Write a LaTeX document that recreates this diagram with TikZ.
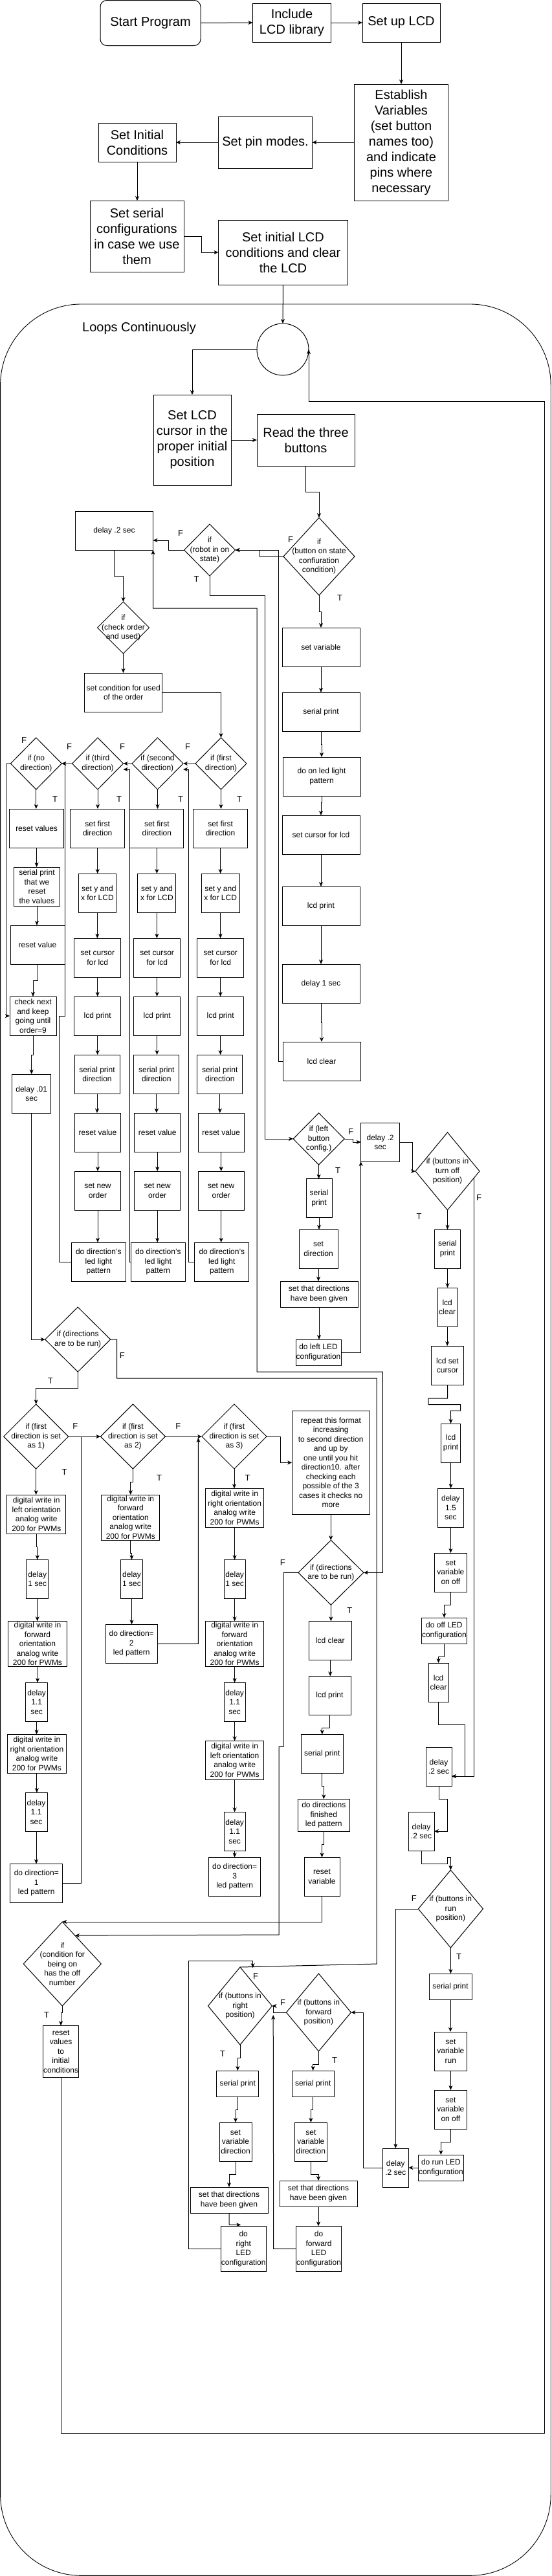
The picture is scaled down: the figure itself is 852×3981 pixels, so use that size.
\documentclass[tikz,border=0pt]{standalone}
\usepackage{fontspec}
\setmainfont{Liberation Sans}
\usetikzlibrary{shapes.geometric,arrows.meta,calc}
\tikzset{
 box/.style={draw, line width=1pt, inner sep=0pt, outer sep=0pt},
 dia/.style={draw, diamond, aspect=1, line width=1pt, inner sep=0pt, outer sep=0pt},
 sm/.style={font=\fontsize{12}{14.5}\selectfont, align=center, inner sep=0pt},
 bg/.style={font=\fontsize{20}{24}\selectfont, align=center, inner sep=0pt},
 lab/.style={font=\fontsize{13}{15}\selectfont, inner sep=0pt},
 arr/.style={-{Stealth[length=7pt,width=6pt,inset=2pt]}, line width=1pt},
 ln/.style={line width=1pt},
 dbl/.style={{Stealth[length=7pt,width=6pt,inset=2pt]}-{Stealth[length=7pt,width=6pt,inset=2pt]}, line width=1pt},
}
\newcommand\mybx[6]{\node[box,minimum width=#3pt,minimum height=#4pt] (#1) at (#2) {}; \node[#5] (#1-t) at (#1.center) {#6};}
\newcommand\mydm[6]{\node[dia,minimum width=#3pt,minimum height=#4pt] (#1) at (#2) {}; \node[#5] (#1-t) at (#1.center) {#6};}
\newcommand\myvc[2]{\draw[arr] (#1.south) -- (#1.south |- #2.north);}
\newcommand\mylb[3]{\node[lab] (#1) at (#2) {#3};}
\begin{document}
\begin{tikzpicture}[x=1pt,y=-1pt]
\useasboundingbox (0,0) rectangle (852,3981);
% outer loop frame
\draw[line width=0.9pt, rounded corners=125pt] (0.6,470) rectangle (851.2,3980.3);
\node[bg] (loopsc) at (215,507) {Loops Continuously};
% ---------- setup part
\node[box, rounded corners=10pt, minimum width=155pt, minimum height=70pt] (start) at (232.5,35.5) {};
\node[bg] (start-t) at (start.center) {Start Program};
\mybx{incl}{451,35}{121}{60}{bg}{Include\\LCD library}
\mybx{setup}{620,35}{120}{60}{bg}{Set up LCD}
\mybx{estab}{620,220}{145}{180}{bg}{Establish\\Variables\\(set button\\names too)\\and indicate\\pins where\\necessary}
\mybx{pinm}{410,220}{145}{80}{bg}{Set pin modes.}
\mybx{initc}{212,220}{120}{60}{bg}{Set Initial\\Conditions}
\mybx{serial}{211.5,365}{145}{110}{bg}{Set serial\\configurations\\in case we use\\them}
\mybx{lcdinit}{437.5,390}{200}{100}{bg}{Set initial LCD\\conditions and clear\\the LCD}
\node[draw, circle, minimum size=80pt, inner sep=0pt, outer sep=0pt, line width=1pt] (loop) at (437,540) {};
\mybx{setlcd}{297,680}{120}{140}{bg}{Set LCD\\cursor in the\\proper initial\\position}
\mybx{read}{472.5,680}{151}{80}{bg}{Read the three\\buttons}
% ---------- button config branch
\mydm{btn}{493,860}{110}{120}{sm}{if\\(button on state\\confiuration\\condition)}
\mybx{setvar}{496,1000}{120}{60}{sm}{set variable}
\mybx{serialp1}{496,1100}{120}{60}{sm}{serial print}
\mybx{ledon}{497,1200}{120}{60}{sm}{do on led light\\pattern}
\mybx{cursor1}{496,1290}{120}{60}{sm}{set cursor for lcd}
\mybx{lcdprint1}{496,1400}{120}{60}{sm}{lcd print}
\mybx{delay1}{496,1520}{120}{60}{sm}{delay 1 sec}
\mybx{lcdclear1}{497,1640}{120}{60}{sm}{lcd clear}
\mydm{robot}{324,850}{79}{80}{sm}{if\\(robot in on\\state)}
\mybx{delay02}{176.5,820}{120}{60}{sm}{delay .2 sec}
\mydm{check}{190.5,970}{80}{80}{sm}{if\\(check order\\and used)}
\mybx{setcond}{190.7,1070}{120}{60}{sm}{set condition for used\\of the order}
\mydm{d1}{341.5,1180}{79}{80}{sm}{if (first\\direction)}
\mydm{d2}{243.5,1180}{79}{80}{sm}{if (second\\direction)}
\mydm{d3}{151,1180}{79}{80}{sm}{if (third\\direction)}
\mydm{d0}{55.8,1180}{79}{80}{sm}{if (no\\direction)}
\mybx{resetv}{56.6,1280}{84}{60}{sm}{reset values}
\mybx{serialreset}{57,1370}{71}{60}{sm}{serial print\\that we\\reset\\the values}
\mybx{resetval}{58,1460}{84}{60}{sm}{reset value}
\mybx{checknext}{51,1570}{72}{60}{sm}{check next\\and keep\\going until\\order=9}
\mybx{delay01}{48.7,1690}{60}{60}{sm}{delay .01\\sec}
% column under third direction
\mybx{c3a}{150.7,1280}{84}{60}{sm}{set first\\direction}
\mybx{c3b}{150.4,1380}{58}{60}{sm}{set y and\\x for LCD}
\mybx{c3c}{150.7,1480}{72}{60}{sm}{set cursor\\for lcd}
\mybx{c3d}{150.7,1570}{72}{60}{sm}{lcd print}
\mybx{c3e}{150,1660}{70}{60}{sm}{serial print\\direction}
\mybx{c3f}{151,1750}{71}{60}{sm}{reset value}
\mybx{c3g}{151,1840}{71}{60}{sm}{set new\\order}
\mybx{c3h}{152.3,1950}{84}{60}{sm}{do direction's\\led light\\pattern}
% column under second direction
\mybx{c2a}{242.4,1280}{83}{60}{sm}{set first\\direction}
\mybx{c2b}{242.4,1380}{59}{60}{sm}{set y and\\x for LCD}
\mybx{c2c}{242.6,1480}{72}{60}{sm}{set cursor\\for lcd}
\mybx{c2d}{242.6,1570}{72}{60}{sm}{lcd print}
\mybx{c2e}{241.9,1660}{70}{60}{sm}{serial print\\direction}
\mybx{c2f}{243.2,1750}{71}{60}{sm}{reset value}
\mybx{c2g}{243.2,1840}{71}{60}{sm}{set new\\order}
\mybx{c2h}{244.3,1950}{84}{60}{sm}{do direction's\\led light\\pattern}
% column under first direction
\mybx{c1a}{340.6,1280}{84}{60}{sm}{set first\\direction}
\mybx{c1b}{340.6,1380}{59}{60}{sm}{set y and\\x for LCD}
\mybx{c1c}{340.6,1480}{72}{60}{sm}{set cursor\\for lcd}
\mybx{c1d}{340.6,1570}{72}{60}{sm}{lcd print}
\mybx{c1e}{339.8,1660}{70}{60}{sm}{serial print\\direction}
\mybx{c1f}{341.7,1750}{71}{60}{sm}{reset value}
\mybx{c1g}{341.7,1840}{71}{60}{sm}{set new\\order}
\mybx{c1h}{342.8,1950}{84}{60}{sm}{do direction's\\led light\\pattern}
% ---------- left button / turn off
\mydm{leftbtn}{492.6,1760}{79}{80}{sm}{if (left\\button\\config.)}
\mybx{delay02b}{587.6,1765}{60}{60}{sm}{delay .2\\sec}
\mybx{serialp2}{493,1851.7}{40}{60}{sm}{serial\\print}
\mybx{setdir}{492,1930}{60}{60}{sm}{set\\direction}
\mybx{setgiven}{493,2000}{120}{40}{sm}{set that directions\\have been given}
\mybx{doleft}{492,2090}{70}{40}{sm}{do left LED\\configuration}
\mydm{turnoff}{691.5,1810}{99}{120}{sm}{if (buttons in\\turn off\\position)}
\mybx{serialp3}{691.5,1930}{40}{60}{sm}{serial\\print}
\mybx{lcdclear2}{691.2,2020}{30}{60}{sm}{lcd\\clear}
\mybx{lcdsetcur}{691.5,2110}{50}{60}{sm}{lcd set\\cursor}
\mybx{lcdprint2}{696.6,2230}{30}{60}{sm}{lcd\\print}
\mybx{delay15}{696.4,2330}{40}{60}{sm}{delay\\1.5\\sec}
\mybx{setvaronoff}{696.4,2430}{50}{60}{sm}{set\\variable\\on off}
\mybx{dooff}{686.4,2520}{70}{40}{sm}{do off LED\\configuration}
\mybx{lcdclear3}{677.6,2600}{31}{60}{sm}{lcd\\clear}
\mybx{delay02c}{678,2730}{40}{60}{sm}{delay\\.2 sec}
\mybx{delay02d}{651,2830}{40}{60}{sm}{delay\\.2 sec}
\mydm{run}{696.4,2950}{100}{120}{sm}{if (buttons in\\run\\position)}
\mybx{serialp4}{696,3070}{66}{40}{sm}{serial print}
\mybx{setvarrun}{696.4,3170}{50}{60}{sm}{set\\variable\\run}
\mybx{setvaronoff2}{696.4,3260}{50}{60}{sm}{set\\variable\\on off}
\mybx{dorun}{681.4,3350}{70}{40}{sm}{do run LED\\configuration}
\mybx{delay02e}{611.3,3350}{40}{60}{sm}{delay\\.2 sec}
% ---------- right / forward
\mydm{right}{371,3100}{99}{120}{sm}{if (buttons in\\right\\position)}
\mydm{fwd}{492.4,3110}{100}{120}{sm}{if (buttons in\\forward\\position)}
\mybx{serialp5}{367.3,3220}{65}{40}{sm}{serial print}
\mybx{setvardir1}{364,3310}{50}{60}{sm}{set\\variable\\direction}
\mybx{setgiven2}{354,3400}{120}{40}{sm}{set that directions\\have been given}
\mybx{doright}{376.2,3475.3}{70}{70}{sm}{do\\right\\LED\\configuration}
\mybx{serialp6}{483.7,3220}{65}{40}{sm}{serial print}
\mybx{setvardir2}{480.4,3310}{50}{60}{sm}{set\\variable\\direction}
\mybx{setgiven3}{492,3390}{120}{40}{sm}{set that directions\\have been given}
\mybx{dofwd}{492.6,3475.3}{70}{70}{sm}{do\\forward\\LED\\configuration}
% ---------- directions run
\mydm{dirrun1}{120.2,2070}{101}{100}{sm}{if (directions\\are to be run)}
\mydm{dir1}{55.7,2220}{100}{100}{sm}{if (first\\direction is set\\as 1)}
\mydm{dir2}{205.4,2220}{100}{100}{sm}{if (first\\direction is set\\as 2)}
\mydm{dir3}{362,2220}{100}{100}{sm}{if (first\\direction is set\\as 3)}
\mybx{repeat}{511.2,2260.3}{120}{160}{sm}{repeat this format\\increasing\\to second direction\\and up by\\one until you hit\\direction10. after\\checking each\\possible of the 3\\cases it checks no\\more}
\mydm{dirrun2}{511.4,2430.3}{101}{100}{sm}{if (directions\\are to be run)}
\mybx{lcdclear4}{510.3,2535.3}{66}{60}{sm}{lcd clear}
\mybx{lcdprint4}{509.5,2620.3}{65}{60}{sm}{lcd print}
\mybx{serialp7}{497.8,2710.3}{65}{60}{sm}{serial print}
\mybx{dodirfin}{500.3,2805.3}{80}{50}{sm}{do directions\\finished\\led pattern}
\mybx{resetvar}{497.5,2900.3}{55}{60}{sm}{reset\\variable}
\mydm{cond}{96.3,3035}{120}{130}{sm}{if\\(condition for\\being on\\has the off\\number}
\mybx{resetinit}{94.1,3170.3}{55.5}{80}{sm}{reset\\values\\to\\initial\\conditions}
\mybx{a1}{56.3,2340}{91}{60}{sm}{digital write in\\left orientation\\analog write\\200 for PWMs}
\mybx{delay1a}{57.7,2440.3}{34}{60}{sm}{delay\\1 sec}
\mybx{a2}{58,2540.3}{91}{70}{sm}{digital write in\\forward\\orientation\\analog write\\200 for PWMs}
\mybx{delay11a}{56.6,2630.3}{34}{60}{sm}{delay\\1.1\\sec}
\mybx{a3}{56.9,2710.3}{91}{60}{sm}{digital write in\\right orientation\\analog write\\200 for PWMs}
\mybx{delay11b}{56,2800.3}{34}{60}{sm}{delay\\1.1\\sec}
\mybx{dodir1}{56.3,2910.3}{81}{60}{sm}{do direction=\\1\\led pattern}
\mybx{b1}{201.8,2345}{90}{70}{sm}{digital write in\\forward\\orientation\\analog write\\200 for PWMs}
\mybx{delay1b}{203.5,2440.3}{34}{60}{sm}{delay\\1 sec}
\mybx{dodir2}{203.2,2540.3}{80}{60}{sm}{do direction=\\2\\led pattern}
\mybx{cc1}{362.6,2330.3}{90}{60}{sm}{digital write in\\right orientation\\analog write\\200 for PWMs}
\mybx{delay1c}{362.6,2440.3}{33}{60}{sm}{delay\\1 sec}
\mybx{cc2}{362.6,2540.3}{90}{70}{sm}{digital write in\\forward\\orientation\\analog write\\200 for PWMs}
\mybx{delay11c}{362.6,2630.3}{33}{60}{sm}{delay\\1.1\\sec}
\mybx{cc3}{362.6,2720.3}{90}{60}{sm}{digital write in\\left orientation\\analog write\\200 for PWMs}
\mybx{delay11d}{362.6,2830.3}{33}{60}{sm}{delay\\1.1\\sec}
\mybx{dodir3}{362.6,2900.3}{80}{60}{sm}{do direction=\\3\\led pattern}
% ---------- labels
\mylb{lb1}{449,834}{F}\mylb{lb2}{525,924}{T}
\mylb{lb3}{279,824}{F}\mylb{lb4}{303.6,895}{T}
\mylb{lb5}{290,1154}{F}\mylb{lb6}{189,1154}{F}\mylb{lb7}{107,1154}{F}\mylb{lb8}{37,1144}{F}
\mylb{lb9}{370,1235}{T}\mylb{lb10}{279,1235}{T}\mylb{lb11}{184,1235}{T}\mylb{lb12}{85,1235}{T}
\mylb{lb13}{542,1749}{F}\mylb{lb14}{522,1809}{T}
\mylb{lb15}{740,1850.7}{F}\mylb{lb16}{647.5,1880}{T}
\mylb{lb17}{188.8,2094.7}{F}\mylb{lb18}{77.8,2134.3}{T}
\mylb{lb19}{116.4,2204.3}{F}\mylb{lb20}{275.3,2204.3}{F}
\mylb{lb21}{99.6,2275}{T}\mylb{lb22}{246,2284.3}{T}\mylb{lb23}{382.5,2284.3}{T}
\mylb{lb24}{436.9,2415}{F}\mylb{lb25}{540.3,2489.3}{T}
\mylb{lb26}{639.8,2934.3}{F}\mylb{lb27}{709,3024.3}{T}
\mylb{lb28}{71.8,3114.3}{T}
\mylb{lb29}{395,3054.3}{F}\mylb{lb30}{437,3095}{F}
\mylb{lb31}{343.9,3174}{T}\mylb{lb32}{517,3184.3}{T}
% ---------- connectors: setup
\draw[arr] (start.east) -- (incl.west);
\draw[arr] (incl.east) -- (setup.west);
\draw[arr] (setup.south) -- (estab.north);
\draw[arr] (estab.west) -- (pinm.east);
\draw[arr] (pinm.west) -- (initc.east);
\draw[arr] (initc.south) -- (initc.south |- serial.north);
\draw[arr] (serial.east) -- (311,365) |- (lcdinit.west);
\draw[arr] (lcdinit.south) -- (loop.north);
\draw[arr] (loop.west) -| (setlcd.north);
\draw[arr] (setlcd.east) -- (read.west);
\draw[arr] (read.south) -- (472.5,760) -| (btn.north);
% button branch
\draw[arr] (btn.south) -- (493,945) -| (setvar.north);
\myvc{setvar}{serialp1}
\draw[arr] (serialp1.south) -- (496,1150) -| (ledon.north);
\draw[arr] (ledon.south) -- (497,1240) -| (cursor1.north);
\myvc{cursor1}{lcdprint1}
\myvc{lcdprint1}{delay1}
\draw[arr] (delay1.south) -- (496,1580) -| (lcdclear1.north);
\draw[arr] (btn.west) -- (401,860) |- (robot.east);
\draw[arr] (lcdclear1.west) -- (430,1640) |- (robot.east);
\draw[arr] (robot.west) -- (260,850) |- ([yshift=-15pt]delay02.east);
\draw[arr] (robot.south) -- (324,920) -- (409,920) |- (leftbtn.west);
\draw[dbl] (delay02.south east) -- (236.7,940) -- (397,940) -- (397,2120) -- (591.4,2120) |- (dirrun2.east);
\draw[arr] (delay02.south) -- (176.5,890) -| (check.north);
\draw[arr] (check.south) -- (check.south |- setcond.north);
\draw[arr] (setcond.east) -| (d1.north);
\draw[arr] (d1.west) -- (d2.east);
\draw[arr] (d2.west) -- (d3.east);
\draw[arr] (d3.west) -- (d0.east);
\draw[arr] (d0.west) -- (9.8,1180) |- (checknext.west);
\myvc{d0}{resetv}
\myvc{resetv}{serialreset}
\myvc{serialreset}{resetval}
\draw[arr] (resetval.south) -- (58,1515) -| (checknext.north);
\draw[arr] (checknext.south) -- (51,1630) -| (delay01.north);
\draw[arr] (delay01.south) |- (dirrun1.west);
\myvc{d3}{c3a}\myvc{c3a}{c3b}\myvc{c3b}{c3c}\myvc{c3c}{c3d}\myvc{c3d}{c3e}\myvc{c3e}{c3f}\myvc{c3f}{c3g}\myvc{c3g}{c3h}
\myvc{d2}{c2a}\myvc{c2a}{c2b}\myvc{c2b}{c2c}\myvc{c2c}{c2d}\myvc{c2d}{c2e}\myvc{c2e}{c2f}\myvc{c2f}{c2g}\myvc{c2g}{c2h}
\myvc{d1}{c1a}\myvc{c1a}{c1b}\myvc{c1b}{c1c}\myvc{c1c}{c1d}\myvc{c1d}{c1e}\myvc{c1e}{c1f}\myvc{c1f}{c1g}\myvc{c1g}{c1h}
\draw[arr] (c1h.west) -- (291,1950) |- ([yshift=-9pt]d2.east);
\draw[arr] (c2h.west) -- (200.2,1950) |- ([yshift=-9pt]d3.east);
\draw[arr] (c3h.west) -- (91,1950) -- (91,1570) -- (100.6,1570) |- (d0.east);
% left button branch
\draw[arr] (leftbtn.east) -- (545,1760) |- (delay02b.west);
\myvc{leftbtn}{serialp2}
\myvc{serialp2}{setdir}
\myvc{setdir}{setgiven}
\myvc{setgiven}{doleft}
\draw[arr] (doleft.east) -| (delay02b.south west);
\draw[arr] (delay02b.east) -- (637.6,1765) |- (turnoff.west);
\draw[arr] (turnoff.-15) |- ([yshift=-15pt]delay02c.east);
\myvc{turnoff}{serialp3}
\myvc{serialp3}{lcdclear2}
\myvc{lcdclear2}{lcdsetcur}
\draw[arr] (lcdsetcur.south) -- (691.5,2161) -- (662,2161) -- (662,2170.7) -- (711.6,2170.7) -- (711.6,2180) -- (696.4,2180) -- (lcdprint2.north);
\myvc{lcdprint2}{delay15}
\myvc{delay15}{setvaronoff}
\draw[arr] (setvaronoff.south) -- (696.4,2480) -| (dooff.north);
\draw[arr] (dooff.south) -- (686.4,2560) -| (lcdclear3.north);
\draw[arr] (lcdclear3.south) -- (677.6,2665) -- (718.2,2665) |- ([yshift=-15pt]delay02c.east);
\draw[arr] (delay02c.south) -- (678,2780) -- (691,2780) |- (delay02d.east);
\draw[arr] (delay02d.south) -- (651,2880) -- (691,2880) -- (691,2870) -- (696.4,2870) -- (run.north);
\draw[arr] (run.west) -| (delay02e.north);
\myvc{run}{serialp4}
\myvc{serialp4}{setvarrun}
\myvc{setvarrun}{setvaronoff2}
\draw[arr] (setvaronoff2.south) -- (696.4,3310) -| (dorun.north);
\draw[arr] (dorun.west) -- (delay02e.east);
\draw[arr] (delay02e.west) -- (561.5,3350) |- (fwd.east);
% right / forward
\draw[arr] (fwd.west) -- (422.7,3110) |- (right.east);
\draw[arr] (dofwd.west) -- (422.7,3475.3) -- ([xshift=1.7pt,yshift=-14pt]right.east);
\draw[arr] (right.south) -- (371,3180.7) -| (serialp5.north);
\draw[arr] (serialp5.south) -- (367.3,3260.7) -| (setvardir1.north);
\draw[arr] (setvardir1.south) -- (364,3360.7) -| (setgiven2.north);
\draw[arr] (setgiven2.south) -- (354,3438) -- ([xshift=-4pt,yshift=2pt]doright.north);
\draw[arr] (doright.west) -- (291,3475.3) -- (291,3030.7) -- (390.6,3030.7) -- ([xshift=19.6pt,yshift=-1pt]right.north);
\draw[arr] (fwd.south) -- (492.4,3190.7) -| (serialp6.north);
\draw[arr] (serialp6.south) -- (483.7,3260.7) -| (setvardir2.north);
\draw[arr] (setvardir2.south) -- (480.4,3360.7) -| (setgiven3.north);
\myvc{setgiven3}{dofwd}
% directions
\draw[ln] (dirrun1.east) -- (180.6,2070) -- (180.6,2130) -- (582.2,2130) -- (582.2,3035) -- (right.north);
\draw[arr] (dirrun1.south) -- (120.2,2145) -| (dir1.north);
\draw[arr] (dir1.east) -- (dir2.west);
\draw[arr] (dir2.east) -- (dir3.west);
\draw[ln] (dodir1.east) -- (125.7,2910.3) -- (125.7,2220);
\draw[arr] (dodir2.east) -- (306.3,2540.3) -- ([xshift=-5.5pt,yshift=-2pt]dir3.west);
\draw[arr] (dir3.east) -- (433.6,2220) |- (repeat.west);
\myvc{repeat}{dirrun2}
\myvc{dir1}{a1}
\draw[arr] (a1.south) -- (56.3,2390) -| (delay1a.north);
\myvc{delay1a}{a2}\myvc{a2}{delay11a}\myvc{delay11a}{a3}\myvc{a3}{delay11b}\myvc{delay11b}{dodir1}
\draw[arr] (dir2.south) -- (205.4,2290) -| (b1.north);
\draw[arr] (b1.south) -- (201.8,2400) -| (delay1b.north);
\myvc{delay1b}{dodir2}
\myvc{dir3}{cc1}\myvc{cc1}{delay1c}\myvc{delay1c}{cc2}\myvc{cc2}{delay11c}\myvc{delay11c}{cc3}\myvc{cc3}{delay11d}\myvc{delay11d}{dodir3}
\myvc{dirrun2}{lcdclear4}
\myvc{lcdclear4}{lcdprint4}
\draw[arr] (lcdprint4.south) -- (509.5,2670) -| (serialp7.north);
\draw[arr] (serialp7.south) -- (497.8,2760.7) -| (dodirfin.north);
\draw[arr] (dodirfin.south) -- (500.3,2850) -| (resetvar.north);
\draw[arr] (resetvar.south) |- (cond.north);
\draw[arr] (dirrun2.west) -- (438,2430.3) -- (438,2699.3) -- (431,2699.3) -- (431,2990) -- (cond.66);
\draw[arr] (cond.south) -- (96.3,3110) -| (resetinit.north);
\draw[arr] (resetinit.south) -- (94.1,3760) -- (841,3760) -- (841,620) -| (loop.east);
\end{tikzpicture}
\end{document}
